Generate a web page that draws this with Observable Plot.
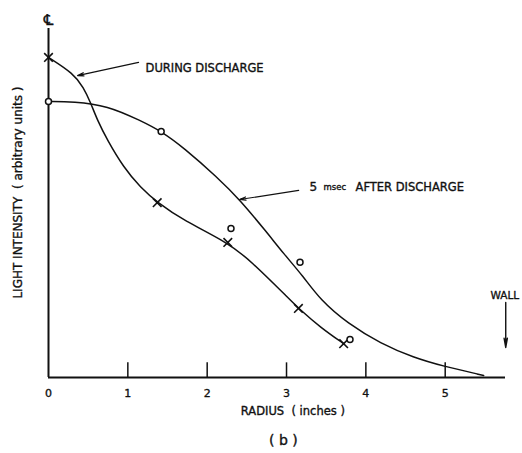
<!DOCTYPE html>
<html>
<head>
<meta charset="utf-8">
<script src="https://cdn.jsdelivr.net/npm/d3@7"></script>
<script src="https://cdn.jsdelivr.net/npm/@observablehq/plot@0.6"></script>
<style>
  html, body { margin: 0; padding: 0; background: #fff; }
  #chart svg { display: block; }
</style>
</head>
<body>
<div id="chart"></div>
<script>
// Measured points (radius in inches, light intensity in arbitrary units 0–100)
const duringX = [0, 1.37, 2.26, 3.15, 3.72];
const duringY = [91.7, 50.1, 38.7, 19.8, 9.7];
const afterX = [0, 1.42, 2.30, 3.17, 3.80];
const afterY = [79.1, 70.5, 42.7, 33.0, 10.9];

// Hand-drawn fitted curves
const duringCurveX = [0, 0.315, 0.441, 0.530, 0.618, 0.744, 0.946, 1.160, 1.375, 1.702, 2.257, 2.547, 3.052, 3.153, 3.430, 3.720];
const duringCurveY = [91.7, 87.1, 83.1, 78.8, 73.6, 67.9, 60.2, 54.4, 50.1, 45.0, 38.7, 33.5, 22.1, 19.8, 14.3, 9.7];
const afterCurveX = [0, 0.315, 0.744, 1.160, 1.425, 1.702, 2.131, 2.409, 2.762, 2.963, 3.203, 3.430, 3.770, 4.187, 4.603, 4.981, 5.485];
const afterCurveY = [79.1, 79.1, 77.9, 73.6, 70.5, 65.9, 57.3, 51.0, 41.3, 35.5, 29.2, 22.1, 15.5, 9.7, 5.7, 3.2, 0.6];

const xTicks = [0, 1, 2, 3, 4, 5];
const xTickMarks = [1, 2, 3, 4, 5];

const xTitle = "RADIUS  ( inches )";
const yTitle = "LIGHT INTENSITY  ( arbitrary units )";
const panelLabel = "( b )";

const during = duringX.map((x, i) => ({x, y: duringY[i]}));
const after = afterX.map((x, i) => ({x, y: afterY[i]}));
const duringCurve = duringCurveX.map((x, i) => ({x, y: duringCurveY[i]}));
const afterCurve = afterCurveX.map((x, i) => ({x, y: afterCurveY[i]}));

const FONT = "DejaVu Sans, sans-serif";
const XMAX = 5.76;
const INK = "#111";
const bold = {fill: INK, stroke: INK, strokeWidth: 0.35};

const chart = Plot.plot({
  width: 522,
  height: 453,
  marginLeft: 48,
  marginRight: 17,
  marginTop: 28,
  marginBottom: 76,
  style: {fontFamily: FONT, color: INK, background: "#fff", overflow: "visible"},
  x: {domain: [0, XMAX], axis: null},
  y: {domain: [0, 100], axis: null},
  marks: [
    // axes
    Plot.ruleY([0], {x1: 0, x2: XMAX, stroke: INK, strokeWidth: 2}),
    Plot.ruleX([0], {y1: 0, y2: 100, stroke: INK, strokeWidth: 2}),
    Plot.ruleX(xTickMarks, {y1: 0, y2: 4.2, stroke: INK, strokeWidth: 1.5}),
    Plot.text(xTicks, {x: d => d, frameAnchor: "bottom", dy: 19, text: d => String(d), fontSize: 11, ...bold}),
    Plot.text([xTitle], {x: 3.08, frameAnchor: "bottom", dy: 37, fontSize: 11.5, ...bold}),
    Plot.text([panelLabel], {x: 2.96, frameAnchor: "bottom", dy: 67, fontSize: 14, ...bold}),
    Plot.text([yTitle], {x: 0, y: 53, dx: -30, rotate: -90, fontSize: 12, ...bold}),
    // centre-line symbol
    Plot.text(["\u2104"], {x: 0, frameAnchor: "top", dy: -14, fontSize: 15, ...bold}),
    // curves
    Plot.line(duringCurve, {x: "x", y: "y", curve: "basis", stroke: INK, strokeWidth: 1.5}),
    Plot.line(afterCurve, {x: "x", y: "y", curve: "basis", stroke: INK, strokeWidth: 1.5}),
    // measured points
    Plot.dot(during, {x: "x", y: "y", symbol: "times", r: 4, stroke: INK, strokeWidth: 1.6}),
    Plot.dot(after, {x: "x", y: "y", symbol: "circle", r: 3, stroke: INK, fill: "#fff", strokeWidth: 1.5}),
    // annotations
    Plot.arrow([{x1: 1.135, y1: 90.3, x2: 0.366, y2: 86.5}], {x1: "x1", y1: "y1", x2: "x2", y2: "y2", stroke: INK, strokeWidth: 1.2, headLength: 8, headAngle: 30}),
    Plot.text(["DURING DISCHARGE"], {x: 1.223, y: 88.5, textAnchor: "start", fontSize: 11.5, ...bold}),
    Plot.arrow([{x1: 3.153, y1: 53.6, x2: 2.409, y2: 51.0}], {x1: "x1", y1: "y1", x2: "x2", y2: "y2", stroke: INK, strokeWidth: 1.2, headLength: 8, headAngle: 30}),
    Plot.text(["5"], {x: 3.29, y: 54.4, textAnchor: "start", fontSize: 12, ...bold}),
    Plot.text(["msec"], {x: 3.29, y: 54.4, dx: 14, textAnchor: "start", fontSize: 8.5, ...bold}),
    Plot.text(["AFTER DISCHARGE"], {x: 3.29, y: 54.4, dx: 46, textAnchor: "start", fontSize: 11.5, ...bold}),
    Plot.arrow([{x1: 5.763, y1: 21.5, x2: 5.763, y2: 8.6}], {x1: "x1", y1: "y1", x2: "x2", y2: "y2", stroke: INK, strokeWidth: 1.4, headLength: 10, headAngle: 20}),
    Plot.text(["WALL"], {x: 5.57, y: 23.5, textAnchor: "start", fontSize: 10.5, ...bold})
  ]
});

document.getElementById("chart").appendChild(chart);
</script>
</body>
</html>
